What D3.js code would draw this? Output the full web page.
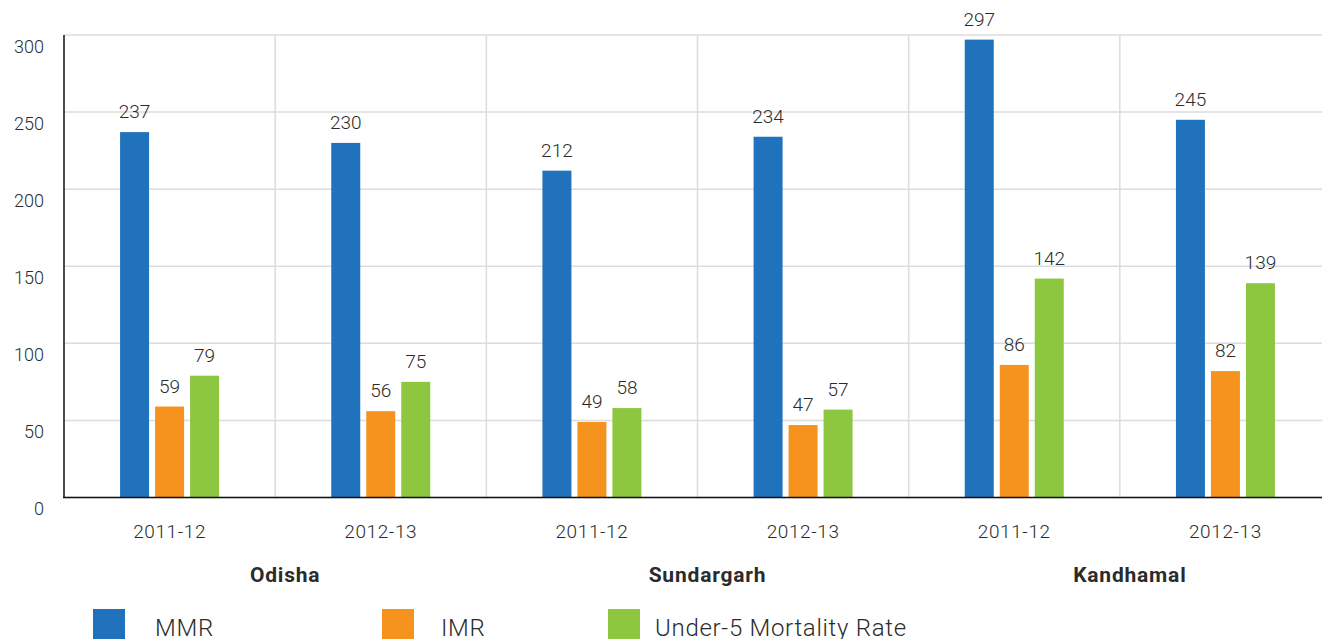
<!DOCTYPE html>
<html>
<head>
<meta charset="utf-8">
<script src="https://cdn.jsdelivr.net/npm/d3@7"></script>
<style>
  body { margin: 0; background: #fff; }
  svg text { font-family: Roboto, "Noto Sans", sans-serif; fill: #2b2b2b; }
</style>
</head>
<body>
<div class="canvas"></div>
<script>
// data
const years = ['2011-12', '2012-13', '2011-12', '2012-13', '2011-12', '2012-13'];
const districts = ['Odisha', 'Sundargarh', 'Kandhamal'];
const seriesNames = ['MMR', 'IMR', 'Under-5 Mortality Rate'];
const seriesColors = ['#1f72bb', '#f6931f', '#8dc63f'];
const mmr = [237, 230, 212, 234, 297, 245];
const imr = [59, 56, 49, 47, 86, 82];
const u5mr = [79, 75, 58, 57, 142, 139];
const yTicks = [0, 50, 100, 150, 200, 250, 300];

const values = [mmr, imr, u5mr];

const width = 1322, height = 639;
const margin = {top: 35, left: 64, bottom: 141.5};
const plotRight = 1331;

const svg = d3.select('.canvas')
    .append('svg')
    .attr('width', width)
    .attr('height', height);

// scales
const x0 = d3.scaleBand()
    .domain(d3.range(years.length))
    .range([margin.left, plotRight])
    .padding(0);

const x1 = d3.scaleBand()
    .domain(d3.range(seriesNames.length))
    .range([0, 99])
    .paddingInner(6 / 35)
    .paddingOuter(0);

const y = d3.scaleLinear()
    .domain([0, 300])
    .range([height - margin.bottom, margin.top]);

// horizontal grid
svg.append('g')
    .selectAll('line')
    .data(yTicks)
    .enter().append('line')
    .attr('x1', margin.left)
    .attr('x2', width)
    .attr('y1', d => y(d))
    .attr('y2', d => y(d))
    .attr('stroke', '#dcdcdc')
    .attr('stroke-width', 1.5);

// vertical grid between categories
svg.append('g')
    .selectAll('line')
    .data(d3.range(1, years.length))
    .enter().append('line')
    .attr('x1', d => x0(d))
    .attr('x2', d => x0(d))
    .attr('y1', y(300))
    .attr('y2', y(0))
    .attr('stroke', '#dcdcdc')
    .attr('stroke-width', 1.5);

// y axis labels
const yAxis = d3.axisLeft(y).tickValues(yTicks).tickSize(0).tickPadding(20);
const yAxisGroup = svg.append('g')
    .attr('transform', `translate(${margin.left}, 0)`)
    .call(yAxis);
yAxisGroup.select('.domain').remove();
yAxisGroup.selectAll('text')
    .attr('dy', '0.95em')
    .style('font-size', '18px')
    .style('font-weight', '300')
    .style('font-family', 'Roboto, sans-serif')
    .attr('fill', '#2b2b2b');

// bars
const offset = (x0.bandwidth() - 99) / 2;
values.forEach((vals, s) => {
    svg.append('g')
        .selectAll('rect')
        .data(vals)
        .enter().append('rect')
        .attr('x', (d, i) => x0(i) + offset + x1(s))
        .attr('y', d => y(d))
        .attr('width', x1.bandwidth())
        .attr('height', d => y(0) - y(d))
        .attr('fill', seriesColors[s]);

    svg.append('g')
        .selectAll('text')
        .data(vals)
        .enter().append('text')
        .attr('x', (d, i) => x0(i) + offset + x1(s) + x1.bandwidth() / 2)
        .attr('y', d => y(d) - 14)
        .attr('text-anchor', 'middle')
        .style('font-size', '19px')
        .style('font-weight', '300')
        .text(d => d);
});

// axes lines
svg.append('line')
    .attr('x1', margin.left).attr('x2', margin.left)
    .attr('y1', y(300)).attr('y2', y(0))
    .attr('stroke', '#111').attr('stroke-width', 1.5);
svg.append('line')
    .attr('x1', margin.left - 1).attr('x2', width)
    .attr('y1', y(0)).attr('y2', y(0))
    .attr('stroke', '#111').attr('stroke-width', 1.5);

// x axis labels
const xAxis = d3.axisBottom(x0).tickSize(0).tickPadding(26).tickFormat(i => years[i]);
const xAxisGroup = svg.append('g')
    .attr('transform', `translate(0, ${y(0)})`)
    .call(xAxis);
xAxisGroup.select('.domain').remove();
xAxisGroup.selectAll('text')
    .attr('dy', '0.75em')
    .style('font-size', '19px')
    .style('font-weight', '300')
    .style('letter-spacing', '0.6px')
    .style('font-family', 'Roboto, sans-serif')
    .attr('fill', '#2b2b2b');

// district labels
svg.append('g')
    .selectAll('text')
    .data(districts)
    .enter().append('text')
    .attr('x', (d, i) => x0(i * 2 + 1) + 10)
    .attr('y', 582)
    .attr('text-anchor', 'middle')
    .style('font-size', '21px')
    .style('font-weight', 'bold')
    .style('letter-spacing', '0.8px')
    .attr('fill', '#111')
    .text(d => d);

// legend
const legendX = [93, 382, 608];
const legend = svg.append('g')
    .selectAll('g')
    .data(seriesNames)
    .enter().append('g')
    .attr('transform', (d, i) => `translate(${legendX[i]}, 609)`);
legend.append('rect')
    .attr('width', 32)
    .attr('height', 32)
    .attr('fill', (d, i) => seriesColors[i]);
legend.append('text')
    .attr('x', (d, i) => i === 0 ? 62 : (i === 1 ? 59 : 47))
    .attr('y', 27)
    .style('font-size', '24px')
    .style('font-weight', '300')
    .style('letter-spacing', '0.7px')
    .text(d => d);
</script>
</body>
</html>
